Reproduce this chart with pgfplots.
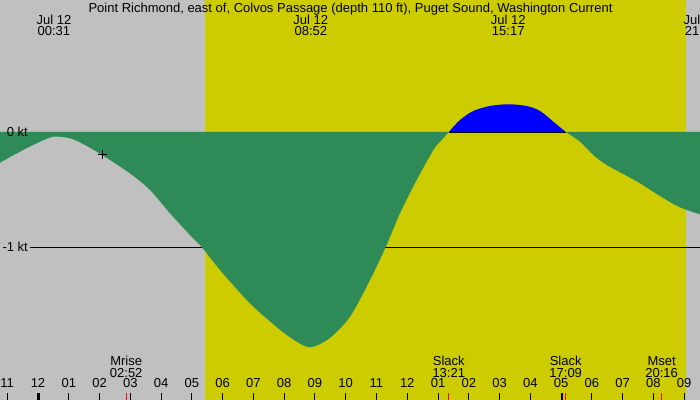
\documentclass[border=0pt]{standalone}
\usepackage{fontspec}
\setmainfont{Liberation Sans}
\usepackage{pgfplots}
\pgfplotsset{compat=1.18}
\definecolor{bggray}{RGB}{192,192,192}
\definecolor{dayyel}{RGB}{204,204,0}
\definecolor{ebbgreen}{RGB}{46,139,87}
\tikzset{lbl/.style={font=\fontsize{13bp}{13bp}\selectfont, inner sep=0pt, anchor=base, text height=9.4bp, text depth=0pt}}
\begin{document}
\begin{tikzpicture}
\begin{axis}[
  scale only axis, width=700bp, height=400bp,
  xmin=-1.235, xmax=21.515, ymin=-2.3304, ymax=1.1478,
  hide axis, clip=false,
]
% background (night) and daylight
\addplot[fill=bggray, draw=none] coordinates {(-1.235,-2.3304) (21.515,-2.3304) (21.515,1.1478) (-1.235,1.1478)} -- cycle;
\addplot[fill=dayyel, draw=none] coordinates {(5.427,-2.3304) (21.05,-2.3304) (21.05,1.1478) (5.427,1.1478)} -- cycle;
% -1 kt line
\addplot[black, line width=1bp] coordinates {(-0.26,-1) (21.515,-1)};
% flood (positive)
\addplot[fill=blue, draw=none, smooth, tension=0.5] coordinates {
 (13.35,0) (13.715,0.104) (14.147,0.183) (14.69,0.226) (15.284,0.241)
 (15.882,0.226) (16.315,0.183) (16.747,0.09) (17.15,0)} \closedcycle;
\addplot[black, line width=1bp] coordinates {(13.35,-0.0043) (17.15,-0.0043)};
% ebb (negative)
\addplot[fill=ebbgreen, draw=none, smooth, tension=0.5] coordinates {
 (-1.235,-0.267) (-0.585,-0.171) (0,-0.093) (0.5,-0.041) (1.04,-0.055)
 (1.527,-0.113) (2.08,-0.20) (2.99,-0.36) (3.64,-0.504) (4.29,-0.707)
 (4.94,-0.896) (5.32,-1.0) (5.915,-1.2) (6.89,-1.49) (7.865,-1.72)
 (8.515,-1.84) (8.905,-1.87) (9.49,-1.79) (10.14,-1.606) (10.79,-1.287)
 (11.30,-1.0) (11.765,-0.707) (12.307,-0.417) (12.847,-0.157) (13.065,-0.086) (13.35,0)} \closedcycle;
\addplot[fill=ebbgreen, draw=none, smooth, tension=0.5] coordinates {
 (17.15,0) (17.615,-0.084) (18.047,-0.2) (18.482,-0.287) (18.915,-0.35)
 (19.565,-0.446) (20.215,-0.557) (20.865,-0.655) (21.515,-0.716)} \closedcycle;
% current time marker
\addplot[only marks, mark=+, mark size=4.5bp, black, line width=1bp] coordinates {(2.08,-0.2)};
% hour ticks
\pgfplotsinvokeforeach{-1,1,2,3,4,5,6,7,8,9,10,11,12,13,14,15,16,17,18,19,20,21}{
  \draw[black, line width=1bp] (axis cs:#1,-2.2696) -- (axis cs:#1,-2.3304);
}
\draw[black, line width=3bp] (axis cs:0,-2.2696) -- (axis cs:0,-2.3304);
\draw[black, line width=1bp] (axis cs:17.05,-2.2696) -- (axis cs:17.05,-2.3304);
\pgfplotsinvokeforeach{2.867,13.35,17.15,20.267}{
  \draw[red, line width=1bp] (axis cs:#1,-2.2696) -- (axis cs:#1,-2.3304);
}
% hour labels
\node[lbl] at (axis cs:-1,-2.226) {11};
\node[lbl] at (axis cs:0,-2.226) {12};
\node[lbl] at (axis cs:1,-2.226) {01};
\node[lbl] at (axis cs:2,-2.226) {02};
\node[lbl] at (axis cs:3,-2.226) {03};
\node[lbl] at (axis cs:4,-2.226) {04};
\node[lbl] at (axis cs:5,-2.226) {05};
\node[lbl] at (axis cs:6,-2.226) {06};
\node[lbl] at (axis cs:7,-2.226) {07};
\node[lbl] at (axis cs:8,-2.226) {08};
\node[lbl] at (axis cs:9,-2.226) {09};
\node[lbl] at (axis cs:10,-2.226) {10};
\node[lbl] at (axis cs:11,-2.226) {11};
\node[lbl] at (axis cs:12,-2.226) {12};
\node[lbl] at (axis cs:13,-2.226) {01};
\node[lbl] at (axis cs:14,-2.226) {02};
\node[lbl] at (axis cs:15,-2.226) {03};
\node[lbl] at (axis cs:16,-2.226) {04};
\node[lbl] at (axis cs:17,-2.226) {05};
\node[lbl] at (axis cs:18,-2.226) {06};
\node[lbl] at (axis cs:19,-2.226) {07};
\node[lbl] at (axis cs:20,-2.226) {08};
\node[lbl] at (axis cs:21,-2.226) {09};
% events
\node[lbl] at (axis cs:2.867,-2.032) {Mrise};
\node[lbl] at (axis cs:2.867,-2.133) {02:52};
\node[lbl] at (axis cs:13.35,-2.032) {Slack};
\node[lbl] at (axis cs:13.35,-2.133) {13:21};
\node[lbl] at (axis cs:17.15,-2.032) {Slack};
\node[lbl] at (axis cs:17.15,-2.133) {17:09};
\node[lbl] at (axis cs:20.267,-2.032) {Mset};
\node[lbl] at (axis cs:20.267,-2.133) {20:16};
% top labels
\node[lbl, text height=, text depth=] at (axis cs:10.156,1.0409) {Point Richmond, east of, Colvos Passage (depth 110 ft), Puget Sound, Washington Current};
\node[lbl] at (axis cs:0.517,0.9365) {Jul 12};
\node[lbl] at (axis cs:0.517,0.8348) {00:31};
\node[lbl] at (axis cs:8.867,0.9365) {Jul 12};
\node[lbl] at (axis cs:8.867,0.8348) {08:52};
\node[lbl] at (axis cs:15.283,0.9365) {Jul 12};
\node[lbl] at (axis cs:15.283,0.8348) {15:17};
\node[lbl] at (axis cs:21.55,0.9365) {Jul 12};
\node[lbl] at (axis cs:21.55,0.8348) {21:31};
% level labels
\node[lbl, anchor=base west] at (axis cs:-1.017,-0.041) {0 kt};
\node[lbl, anchor=base west] at (axis cs:-1.16,-1.039) {-1 kt};
\end{axis}
\pgfresetboundingbox
\useasboundingbox (current axis.south west) rectangle (current axis.north east);
\end{tikzpicture}
\end{document}
